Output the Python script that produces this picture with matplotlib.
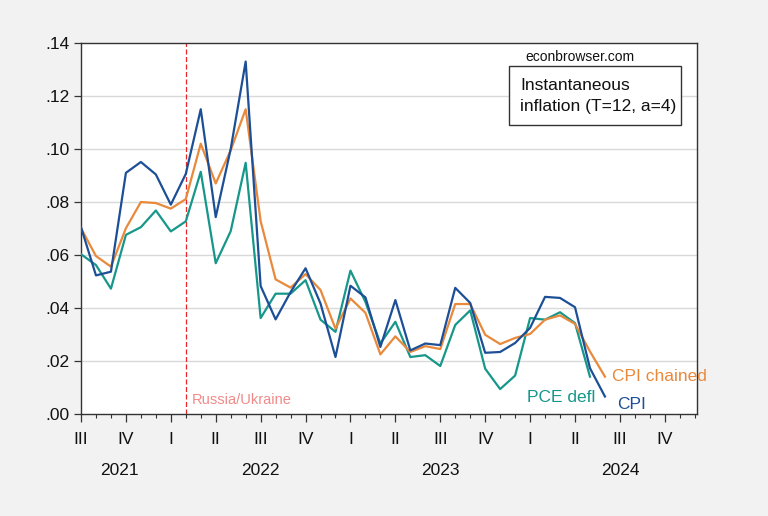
import matplotlib
matplotlib.use("Agg")
import matplotlib.pyplot as plt
from matplotlib.ticker import FixedLocator, FuncFormatter, MultipleLocator
from matplotlib.patches import Rectangle
import matplotlib.transforms as mtransforms

# Monthly observations, 2021M07 .. 2024M06
cpi = [0.0705, 0.0523, 0.0537, 0.0910, 0.0951, 0.0904, 0.0790, 0.0906, 0.1150, 0.0743,
       0.1000, 0.1330, 0.0483, 0.0357, 0.0460, 0.0550, 0.0417, 0.0215, 0.0484, 0.0440,
       0.0253, 0.0430, 0.0240, 0.0266, 0.0260, 0.0476, 0.0419, 0.0231, 0.0234, 0.0268,
       0.0325, 0.0442, 0.0438, 0.0403, 0.0173, 0.0066]
cpi_chained = [0.0701, 0.0596, 0.0556, 0.0701, 0.0800, 0.0796, 0.0775, 0.0811, 0.1020, 0.0870,
               0.0995, 0.1150, 0.0728, 0.0508, 0.0477, 0.0528, 0.0468, 0.0322, 0.0436, 0.0382,
               0.0225, 0.0293, 0.0234, 0.0256, 0.0245, 0.0415, 0.0415, 0.0299, 0.0264, 0.0287,
               0.0302, 0.0356, 0.0372, 0.0340, 0.0236, 0.0141]
pce_defl = [0.0603, 0.0562, 0.0473, 0.0676, 0.0705, 0.0768, 0.0689, 0.0727, 0.0914, 0.0569,
            0.0690, 0.0948, 0.0362, 0.0454, 0.0454, 0.0505, 0.0356, 0.0310, 0.0541, 0.0423,
            0.0266, 0.0348, 0.0215, 0.0222, 0.0181, 0.0336, 0.0391, 0.0171, 0.0094, 0.0145,
            0.0362, 0.0356, 0.0384, 0.0343, 0.0141]

quarter_labels = ["III", "IV", "I", "II", "III", "IV", "I", "II", "III", "IV", "I", "II", "III", "IV"]
year_labels = ["2021", "2022", "2023", "2024"]
year_pos = [2.6, 12, 24, 36]
event_month = 7  # 2022M02
event_label = "Russia/Ukraine"

C_CPI = "#1d4f97"
C_CHAIN = "#e8893b"
C_PCE = "#17978a"

plt.rcParams['font.family'] = ['Liberation Sans', 'DejaVu Sans']

fig = plt.figure(figsize=(7.68, 5.16), dpi=100)
fig.patch.set_facecolor("#f2f2f2")
ax = fig.add_axes([81/768, 1-414/516, (697-81)/768, (414-43)/516])
ax.set_facecolor("white")

x_cpi = list(range(len(cpi)))
x_pce = list(range(len(pce_defl)))

ax.plot(x_pce, pce_defl, color=C_PCE, lw=1.6, zorder=3)
ax.plot(x_cpi, cpi_chained, color=C_CHAIN, lw=1.6, zorder=3)
ax.plot(x_cpi, cpi, color=C_CPI, lw=1.6, zorder=4)

ax.axvline(event_month, color="#e8262a", lw=0.9, ls=(0, (4, 2)), zorder=2)

ax.set_xlim(0, 41.15)
ax.set_ylim(0, 0.14)

ax.yaxis.set_major_locator(MultipleLocator(0.02))
ax.yaxis.set_major_formatter(FuncFormatter(lambda v, p: f"{v:.2f}".lstrip("0") if v >= 0 else f"{v:.2f}"))
for yv in [0.02, 0.04, 0.06, 0.08, 0.10, 0.12]:
    ax.axhline(yv, color="#d9d9d9", lw=1.0, zorder=1)

qticks = [3 * k for k in range(len(quarter_labels))]
ax.xaxis.set_major_locator(FixedLocator(qticks))
ax.set_xticklabels(quarter_labels)
ax.xaxis.set_minor_locator(FixedLocator(list(range(0, 42))))

ax.tick_params(axis="y", which="major", length=5, width=0.9, pad=3, labelsize=12.5, color="#333333", labelcolor="#111111")
ax.tick_params(axis="x", which="major", length=6, width=0.9, pad=7, labelsize=12.5, color="#333333", labelcolor="#111111")
ax.tick_params(axis="x", which="minor", length=3, width=0.8, color="#333333")

for s in ax.spines.values():
    s.set_color("#333333")
    s.set_linewidth(1.0)

trans = mtransforms.blended_transform_factory(ax.transData, ax.transAxes)
for lab, xp in zip(year_labels, year_pos):
    ax.text(xp, -0.151, lab, transform=trans, ha="center", va="center", fontsize=12.5, color="#111111")

ax.text(event_month + 0.38, 0.0053, event_label, color="#f08a8a", fontsize=10.5, ha="left", va="center")

ax.text(35.46, 0.0140, "CPI chained", color=C_CHAIN, fontsize=12.5, ha="left", va="center")
ax.text(29.78, 0.0064, "PCE defl", color=C_PCE, fontsize=12.5, ha="left", va="center")
ax.text(35.8, 0.0034, "CPI", color=C_CPI, fontsize=12.5, ha="left", va="center")

fig.text(579.5/768, 1-57/516, "econbrowser.com", fontsize=10, ha="center", va="center", color="#111111")

box = Rectangle((509/768, 1-125/516), (681-509)/768, (125-66)/516, transform=fig.transFigure,
                facecolor="white", edgecolor="#333333", lw=1.0, zorder=5)
fig.patches.append(box)
fig.text(520/768, 1-85/516, "Instantaneous", fontsize=12.5, ha="left", va="center", color="#111111", zorder=6)
fig.text(520/768, 1-107/516, "inflation (T=12, a=4)", fontsize=12.5, ha="left", va="center", color="#111111", zorder=6)

fig.savefig("out.png", dpi=100, facecolor=fig.get_facecolor())
